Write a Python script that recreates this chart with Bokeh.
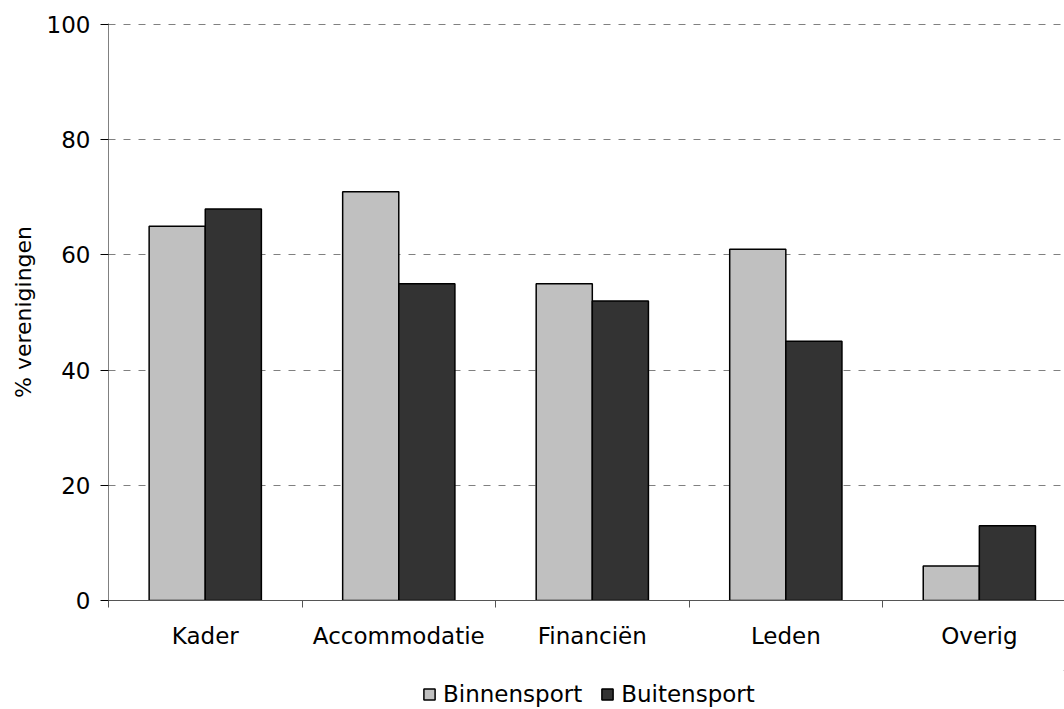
import numpy as np
from bokeh.plotting import figure
from bokeh.layouts import column
from bokeh.models import Range1d, FixedTicker, Legend, LegendItem, ColumnDataSource
from bokeh.embed import file_html
from bokeh.resources import INLINE

categories = ["Kader", "Accommodatie", "Financiën", "Leden", "Overig"]
binnensport = [65, 71, 55, 61, 6]
buitensport = [68, 55, 52, 45, 13]
series_names = ["Binnensport", "Buitensport"]
series_colors = ["#C0C0C0", "#333333"]
y_ticks = [0, 20, 40, 60, 80, 100]

FONT = "DejaVu Sans"
idx = np.arange(len(categories))
centers = idx + 0.5
bw = 0.29

p = figure(width=1064, height=670, output_backend="svg", toolbar_location=None,
           x_range=Range1d(0, 4.94), y_range=Range1d(0, 100.2),
           min_border_left=108, min_border_right=0, min_border_top=23,
           min_border_bottom=70)
p.outline_line_color = None
p.background_fill_color = "white"

src_b = ColumnDataSource(dict(x=centers - bw / 2, top=binnensport))
src_u = ColumnDataSource(dict(x=centers + bw / 2, top=buitensport))
p.vbar(x="x", top="top", width=bw, source=src_b, fill_color=series_colors[0],
       line_color="black", line_width=1.5)
p.vbar(x="x", top="top", width=bw, source=src_u, fill_color=series_colors[1],
       line_color="black", line_width=1.5)

# x axis
xt = FixedTicker(ticks=list(centers), minor_ticks=list(range(len(categories) + 1)))
p.xaxis.ticker = xt
p.xaxis.major_label_overrides = {float(c): cat for c, cat in zip(centers, categories)}
p.xaxis.major_tick_line_color = None
p.xaxis.major_tick_out = 0
p.xaxis.major_tick_in = 0
p.xaxis.minor_tick_line_color = "#555555"
p.xaxis.minor_tick_out = 7
p.xaxis.minor_tick_in = 0
p.xaxis.axis_line_color = "#555555"
p.xaxis.major_label_text_font = FONT
p.xaxis.major_label_text_font_size = "23px"
p.xaxis.major_label_text_color = "black"
p.xaxis.major_label_standoff = 15

# y axis
p.yaxis.ticker = FixedTicker(ticks=y_ticks)
p.yaxis.minor_tick_line_color = None
p.yaxis.major_tick_out = 8
p.yaxis.major_tick_in = 0
p.yaxis.major_tick_line_color = "black"
p.yaxis.axis_line_color = "#808080"
p.yaxis.major_label_text_font = FONT
p.yaxis.major_label_text_font_size = "23px"
p.yaxis.major_label_text_color = "black"
p.yaxis.major_label_standoff = 10
p.yaxis.axis_label = "% verenigingen"
p.yaxis.axis_label_text_font = FONT
p.yaxis.axis_label_text_font_size = "22px"
p.yaxis.axis_label_text_font_style = "normal"
p.yaxis.axis_label_text_color = "black"
p.yaxis.axis_label_standoff = 8

p.xgrid.grid_line_color = None
p.ygrid.grid_line_color = "#808080"
p.ygrid.grid_line_dash = "7 8"
p.ygrid.grid_line_width = 1

# legend figure
lf = figure(width=1064, height=39, output_backend="svg", toolbar_location=None,
            x_range=Range1d(0, 1), y_range=Range1d(0, 1),
            min_border_left=0, min_border_right=0, min_border_top=0,
            min_border_bottom=0)
lf.axis.visible = False
lf.grid.visible = False
lf.outline_line_color = None
items = []
for name, col in zip(series_names, series_colors):
    r = lf.vbar(x=[5], bottom=[5], top=[6], width=0.1, fill_color=col,
                line_color="black", line_width=1.5)
    items.append(LegendItem(label=name, renderers=[r]))
legend = Legend(items=items, orientation="horizontal", location=(314, 2),
                border_line_color=None, background_fill_alpha=0,
                padding=0, margin=0, spacing=18, glyph_width=14, glyph_height=14,
                label_standoff=7, label_text_font=FONT, label_text_font_size="23px",
                label_text_color="black")
lf.add_layout(legend, "center")

layout = column(p, lf, spacing=0)
open("out.html", "w").write(file_html(layout, INLINE))
